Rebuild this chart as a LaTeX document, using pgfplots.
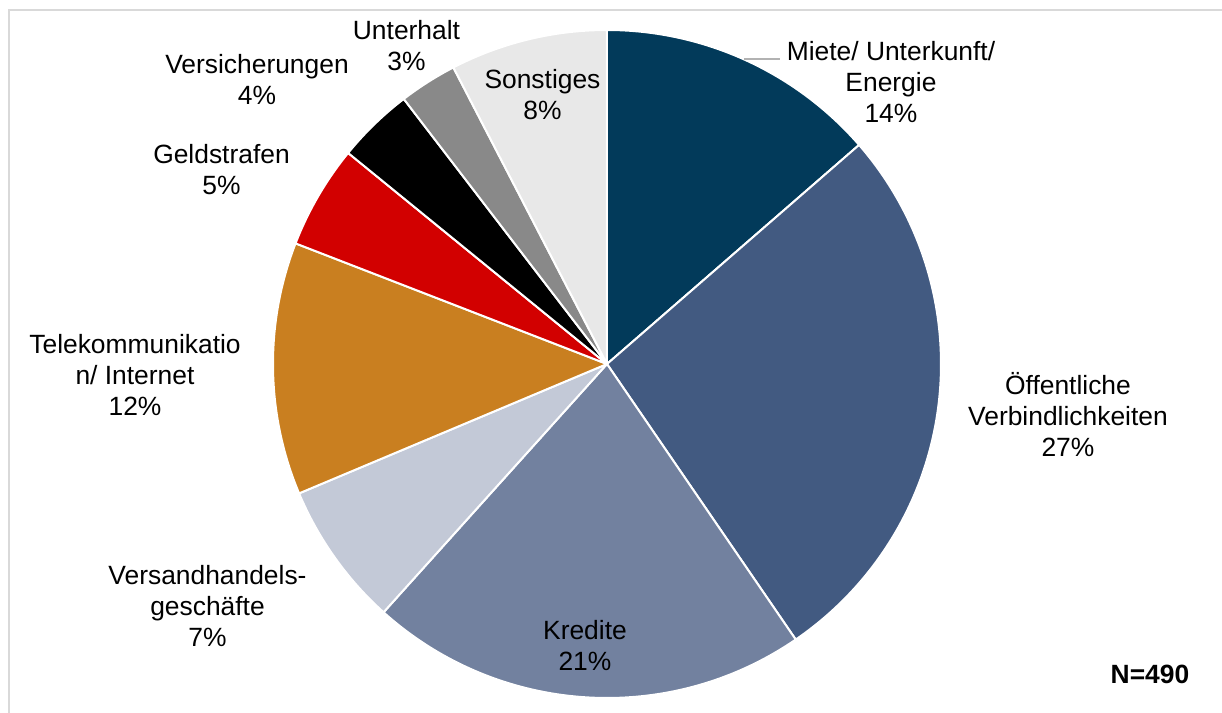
\documentclass[border=0pt]{standalone}
\usepackage{pgfplots}
\pgfplotsset{compat=1.18}
\usepackage{pgfplotstable}
\usepackage{fontspec}
\setmainfont{Liberation Sans}
\definecolor{c0}{HTML}{023A5A}
\definecolor{c1}{HTML}{425A81}
\definecolor{c2}{HTML}{72819F}
\definecolor{c3}{HTML}{C3C9D7}
\definecolor{c4}{HTML}{C97F20}
\definecolor{c5}{HTML}{D20000}
\definecolor{c6}{HTML}{000000}
\definecolor{c7}{HTML}{898989}
\definecolor{c8}{HTML}{E8E8E8}
\definecolor{framegray}{HTML}{D9D9D9}
\pgfplotstableread{
idx pct
0 13.6
1 26.8
2 21.2
3 7.0
4 12.2
5 5.0
6 3.7
7 2.8
8 7.6
}\piedata
\tikzset{lbl/.style={font=\fontsize{13.2bp}{15.5bp}\selectfont, align=center, inner sep=0pt}}
\begin{document}
\begin{tikzpicture}
\def\total{0}
\pgfplotsforeachungrouped \i in {0,...,8}{%
  \pgfplotstablegetelem{\i}{pct}\of\piedata
  \pgfmathsetmacro{\tmp}{\total+\pgfplotsretval}%
  \xdef\total{\tmp}%
}
\def\cum{90}
\pgfplotsforeachungrouped \i in {0,...,8}{%
  \pgfplotstablegetelem{\i}{pct}\of\piedata
  \pgfmathsetmacro{\nxt}{\cum-360*\pgfplotsretval/\total}%
  \expandafter\xdef\csname sa\i\endcsname{\cum}%
  \expandafter\xdef\csname ea\i\endcsname{\nxt}%
  \xdef\cum{\nxt}%
}
\begin{axis}[at={(0,0)}, anchor=south west, x=0.5bp, y=0.5bp,
  xmin=0, xmax=1222, ymin=0, ymax=713, hide axis, clip=false]
\pgfplotsinvokeforeach{0,...,8}{
  \fill[c#1, draw=white, line width=1bp, line join=round]
    (axis cs:607,349) -- ++(\csname sa#1\endcsname:167bp)
    arc[start angle=\csname sa#1\endcsname, end angle=\csname ea#1\endcsname, radius=167bp] -- cycle;
}
\draw[color=black!30, line width=0.75bp] (axis cs:744,654) -- (axis cs:780,654);
\draw[color=framegray, line width=0.8bp] (axis cs:9,-10) -- (axis cs:9,703) -- (axis cs:1240,703);
\node[lbl] at (axis cs:891,631) {Miete/ Unterkunft/\\Energie\\14\%};
\node[lbl] at (axis cs:1068,298) {Öffentliche\\Verbindlichkeiten\\27\%};
\node[lbl] at (axis cs:585,67.5) {Kredite\\21\%};
\node[lbl] at (axis cs:207.5,107) {Versandhandels-\\geschäfte\\7\%};
\node[lbl] at (axis cs:135,338) {Telekommunikatio\\n/ Internet\\12\%};
\node[lbl] at (axis cs:221.5,543) {Geldstrafen\\5\%};
\node[lbl] at (axis cs:257,633.5) {Versicherungen\\4\%};
\node[lbl] at (axis cs:406.5,667.5) {Unterhalt\\3\%};
\node[lbl] at (axis cs:542.5,618.5) {Sonstiges\\8\%};
\node[font=\fontsize{13.2bp}{15.5bp}\selectfont\bfseries, inner sep=0pt, anchor=base] at (axis cs:1150,30) {N=490};
\end{axis}
\pgfresetboundingbox
\path (0,0) rectangle (611bp,356.5bp);
\end{tikzpicture}
\end{document}
